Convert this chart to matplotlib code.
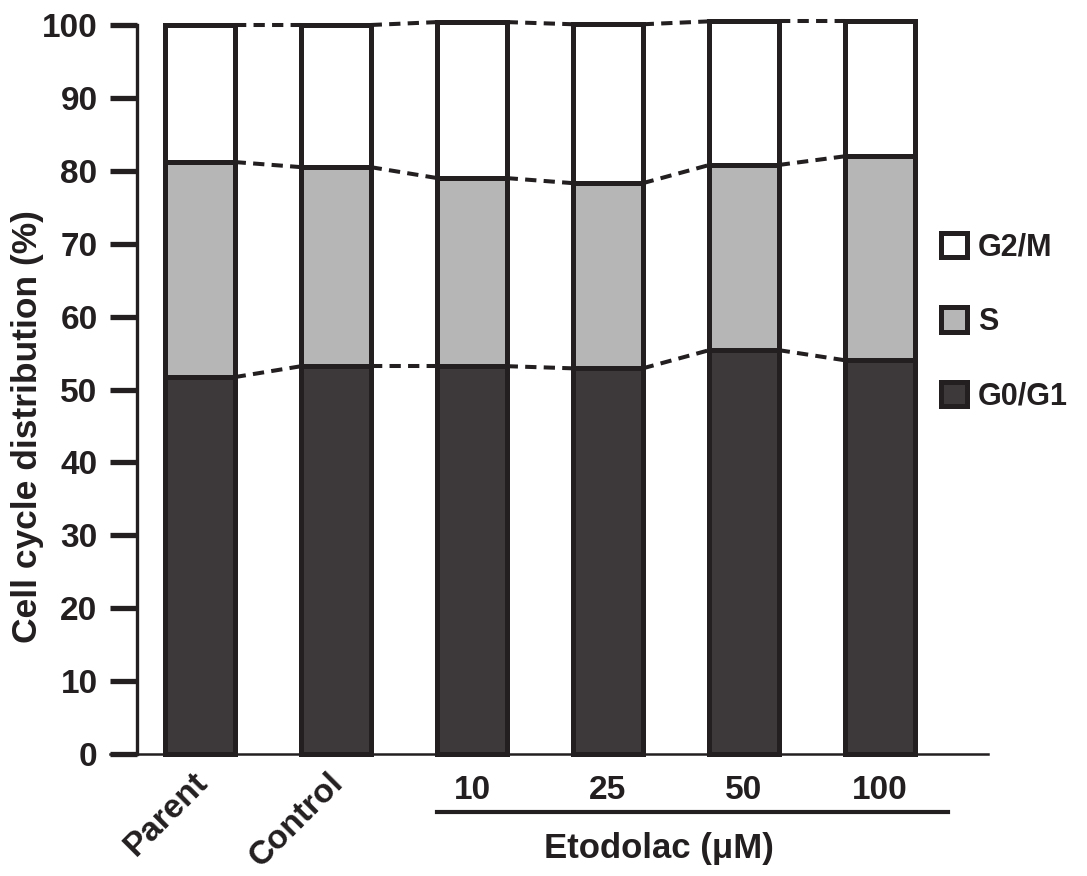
import matplotlib
matplotlib.use("Agg")
import matplotlib.pyplot as plt
import matplotlib.transforms as mtransforms
from matplotlib.patches import Patch
import numpy as np

categories = ["Parent", "Control", "10", "25", "50", "100"]
g0g1 = [51.7, 53.2, 53.2, 52.9, 55.4, 54.0]
s_phase = [29.5, 27.3, 25.8, 25.4, 25.4, 28.0]
g2m = [18.8, 19.5, 21.4, 21.8, 19.7, 18.5]
phase_names = ["G2/M", "S", "G0/G1"]
yticks = [0, 10, 20, 30, 40, 50, 60, 70, 80, 90, 100]
ylabel = "Cell cycle distribution (%)"
group_label = "Etodolac (\u03bcM)"

INK = "#231f20"
C_G01 = "#3d3839"
C_S = "#b5b6b5"
C_G2M = "#ffffff"

plt.rcParams["font.family"] = ["Liberation Sans", "DejaVu Sans"]
plt.rcParams["font.weight"] = "bold"

fig = plt.figure(figsize=(10.87, 8.76), dpi=100)
ax = fig.add_axes([137 / 1087, 1 - 754 / 876, 851 / 1087, 729 / 876])

x = np.arange(len(categories))
width = 0.51
lw = 3.6
g0 = np.array(g0g1)
sp = np.array(s_phase)
gm = np.array(g2m)
ax.bar(x, g0, width, color=C_G01, edgecolor=INK, linewidth=lw, zorder=3, clip_on=False)
ax.bar(x, sp, width, bottom=g0, color=C_S, edgecolor=INK, linewidth=lw, zorder=3, clip_on=False)
ax.bar(x, gm, width, bottom=g0 + sp, color=C_G2M, edgecolor=INK, linewidth=lw, zorder=3, clip_on=False)

# dashed connectors between bar boundaries
for level in [g0, g0 + sp, g0 + sp + gm]:
    for i in range(len(x) - 1):
        ax.plot([x[i] + width / 2, x[i + 1] - width / 2], [level[i], level[i + 1]],
                color=INK, linestyle=(0, (2.8, 1.8)), linewidth=2.9, zorder=2, clip_on=False)

ax.set_xlim(-0.463, 5.794)
ax.set_ylim(0, 100)
ax.set_yticks(yticks)
ax.tick_params(axis="y", length=19.4, width=3.8, color=INK, labelsize=24, pad=9, labelcolor=INK)
for lab in ax.get_yticklabels():
    lab.set_fontweight("bold")

ax.set_xticks(x)
ax.set_xticklabels(categories, fontsize=24, fontweight="bold", color=INK)
ax.tick_params(axis="x", length=0, pad=15)
shift = mtransforms.ScaledTranslation(-8 / 100, 8 / 100, fig.dpi_scale_trans)
for lab in ax.get_xticklabels()[:2]:
    lab.set_rotation(45)
    lab.set_ha("right")
    lab.set_va("top")
    lab.set_rotation_mode("anchor")
    lab.set_transform(lab.get_transform() + shift)

for sp_name in ["top", "right", "bottom"]:
    ax.spines[sp_name].set_visible(False)
ax.spines["left"].set_linewidth(2.4)
ax.spines["left"].set_color(INK)

# x axis line extending under the y ticks
trans = mtransforms.blended_transform_factory(ax.transAxes, ax.transData)
ax.plot([-27 / 851, 1.0], [0, 0], color=INK, linewidth=1.8, transform=trans, clip_on=False, zorder=1)

# group line and label
ax.plot([x[2] - 0.26, x[5] + 0.5], [-7.96, -7.96], color=INK, linewidth=3.0, clip_on=False)
ax.text(3.375, -13.0, group_label, fontsize=25, fontweight="bold",
        color=INK, ha="center", va="center")

fig.text(28 / 1087, 1 - 427 / 876, ylabel, rotation=90, fontsize=25.5, fontweight="bold",
         color=INK, ha="center", va="center")

handles = [Patch(facecolor=C_G2M, edgecolor=INK, linewidth=3.6),
           Patch(facecolor=C_S, edgecolor=INK, linewidth=3.6),
           Patch(facecolor=C_G01, edgecolor=INK, linewidth=3.6)]
fig.legend(handles, phase_names, loc="center left", bbox_to_anchor=(926 / 1087, 1 - 322 / 876),
           frameon=False, prop={"size": 22, "weight": "bold"}, handlelength=0.85, handleheight=0.85,
           handletextpad=0.35, labelspacing=1.45, labelcolor=INK, borderpad=0)

fig.savefig("out.png", dpi=100, facecolor="white")
